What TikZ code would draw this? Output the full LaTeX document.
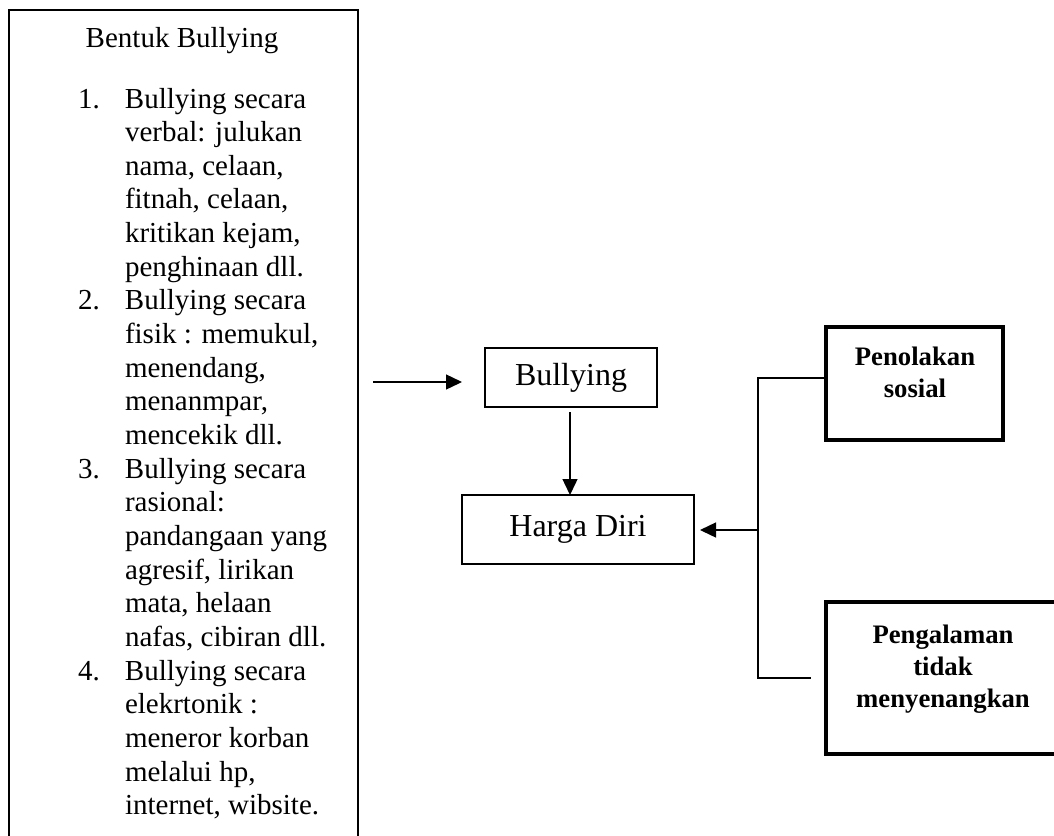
\documentclass[tikz,border=0pt]{standalone}
\usepackage{fontspec}
\setmainfont{Liberation Serif}
\usetikzlibrary{arrows.meta}
\begin{document}
\begin{tikzpicture}[x=1pt,y=-1pt,
  every node/.style={outer sep=0pt, inner sep=0pt},
  frame/.style={draw, line width=2pt, anchor=north west},
  thinbox/.style={draw, line width=1.5pt, anchor=north west},
  thickbox/.style={draw, line width=4.8pt, anchor=north west},
  listtxt/.style={font=\fontsize{29}{33.65}\selectfont, anchor=base west},
  headtxt/.style={font=\fontsize{29}{33.65}\selectfont, anchor=base},
  boxtxt/.style={font=\fontsize{32}{38}\selectfont},
  boldtxt/.style={font=\fontsize{26.7}{32}\selectfont\bfseries, anchor=base},
  conn/.style={line width=1.4pt},
  arr/.style={line width=1.4pt, -{Triangle[length=16pt,width=15pt]}}]
\useasboundingbox (0,0) rectangle (1054,835);

% left frame (continues below the picture)
\node[frame, minimum width=349pt, minimum height=860pt] (lbox) at (9,10) {};
\node[headtxt] (head) at (182,47) {Bentuk Bullying};
\node[listtxt] (list) at (78,108) {%
\begin{tabular}[t]{@{}p{47pt}@{}l@{}}
1. & Bullying secara\\
   & verbal: julukan\\
   & nama, celaan,\\
   & fitnah, celaan,\\
   & kritikan kejam,\\
   & penghinaan dll.\\
2. & Bullying secara\\
   & fisik : memukul,\\
   & menendang,\\
   & menanmpar,\\
   & mencekik dll.\\
3. & Bullying secara\\
   & rasional:\\
   & pandangaan yang\\
   & agresif, lirikan\\
   & mata, helaan\\
   & nafas, cibiran dll.\\
4. & Bullying secara\\
   & elekrtonik :\\
   & meneror korban\\
   & melalui hp,\\
   & internet, wibsite.
\end{tabular}};

% middle boxes
\node[thinbox, boxtxt, minimum width=172pt, minimum height=59pt] (bul) at (485,348) {Bullying};
\node[thinbox, boxtxt, minimum width=232pt, minimum height=69pt] (hd) at (462,495) {Harga Diri};

% right boxes
\node[thickbox, minimum width=177pt, minimum height=113pt] (pen) at (826,327) {};
\node[boldtxt] (pentxt) at (915,365) {\begin{tabular}[t]{@{}c@{}}Penolakan\\sosial\end{tabular}};
\node[thickbox, minimum width=236pt, minimum height=152pt] (pg) at (826,602) {};
\node[boldtxt] (pgtxt) at (943,643) {\begin{tabular}[t]{@{}c@{}}Pengalaman\\tidak\\menyenangkan\end{tabular}};

% connectors
\draw[arr, shorten <=15pt, shorten >=23pt] (lbox.east |- 0,382) -- (bul.west |- 0,382);
\draw[arr, shorten <=5pt] (bul.south -| 570,0) -- (hd.north -| 570,0);

\coordinate (jt) at (758,378);
\coordinate (jm) at (758,530);
\coordinate (jb) at (758,678);
\draw[conn, shorten >=15pt] (pen.west |- jt) -- (jt) -- (jb) -- (pg.west |- jb);
\draw[arr, shorten >=6pt] (jm) -- (hd.east |- jm);
\end{tikzpicture}
\end{document}
